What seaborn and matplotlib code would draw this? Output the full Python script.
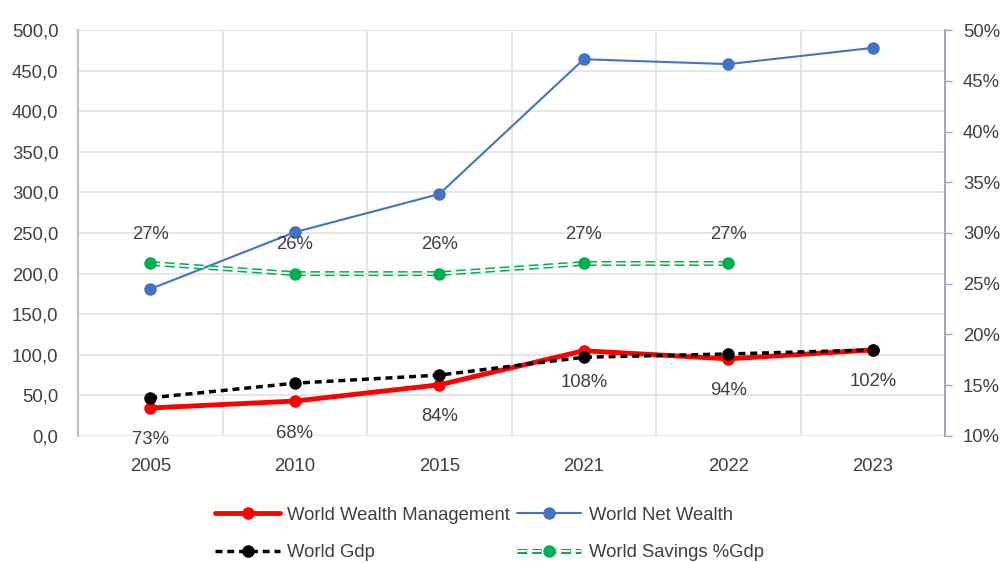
import matplotlib
matplotlib.use("Agg")
import matplotlib.pyplot as plt
from matplotlib.lines import Line2D
from matplotlib.ticker import FuncFormatter
import seaborn as sns

years = ["2005", "2010", "2015", "2021", "2022", "2023"]
wealth_mgmt = [34.5, 43, 63, 105, 95, 106]
net_wealth = [181, 251, 298, 464, 458, 478]
world_gdp = [47, 65, 75, 97, 101, 106]
ratio_labels = ["73%", "68%", "84%", "108%", "94%", "102%"]
savings_years = ["2005", "2010", "2015", "2021", "2022"]
savings_pct = [0.27, 0.26, 0.26, 0.27, 0.27]

sns.set_style("white")
plt.rcParams["font.family"] = ["Liberation Sans", "DejaVu Sans"]
plt.rcParams["lines.scale_dashes"] = False
txt = "#404040"
green = "#00b050"
ms = 9
fs = 13.3

fig = plt.figure(figsize=(10.04, 5.63), dpi=100)
ax = fig.add_axes([0.0777, 0.2256, 0.8636, 0.7211])
ax2 = ax.twinx()

# main series on left axis
sns.lineplot(x=years, y=wealth_mgmt, ax=ax, color="#ff0000", lw=3.5, marker="o",
             markersize=ms, markeredgewidth=0, label="World Wealth Management", legend=False, zorder=4)
sns.lineplot(x=years, y=net_wealth, ax=ax, color="#4472c4", lw=1.5, marker="o",
             markersize=ms, markeredgewidth=0, label="World Net Wealth", legend=False, zorder=3)
sns.lineplot(x=years, y=world_gdp, ax=ax, color="black", lw=2.5, ls=(0, (5, 3.5)), marker="o",
             markersize=ms, markeredgewidth=0, label="World Gdp", legend=False, zorder=5)

# savings on right axis: hollow green dashes (green dash, white core)
dash = (0, (7, 3.5))
sns.lineplot(x=savings_years, y=savings_pct, ax=ax2, color=green, lw=3.6, ls=dash, legend=False)
sns.lineplot(x=savings_years, y=savings_pct, ax=ax2, color="white", lw=1.4, ls=dash, legend=False)
sns.lineplot(x=savings_years, y=savings_pct, ax=ax2, color=green, lw=0, marker="o",
             markersize=ms, markeredgewidth=0, legend=False)

for i, lab in enumerate(ratio_labels):
    ax.annotate(lab, (i, wealth_mgmt[i]), xytext=(0, -23), textcoords="offset points",
                ha="center", va="center", fontsize=fs, color=txt)
for i, v in enumerate(savings_pct):
    ax2.annotate(f"{round(v * 100)}%", (i, v), xytext=(0, 21), textcoords="offset points",
                 ha="center", va="center", fontsize=fs, color=txt)

ax.set_xlim(-0.5, 5.5)
ax.set_ylim(0, 500)
ax.set_yticks(range(0, 501, 50))
ax.yaxis.set_major_formatter(FuncFormatter(lambda v, p: f"{v:.1f}".replace(".", ",")))
ax2.set_ylim(0.10, 0.50)
ax2.set_yticks([0.10, 0.15, 0.20, 0.25, 0.30, 0.35, 0.40, 0.45, 0.50])
ax2.yaxis.set_major_formatter(FuncFormatter(lambda v, p: f"{round(v * 100)}%"))

ax.set_xticks(range(len(years)))
ax.set_xticks([i + 0.5 for i in range(len(years) - 1)], minor=True)
ax.grid(True, axis="y", color="#e4e4e4", lw=1.3)
ax.grid(True, axis="x", which="minor", color="#e4e4e4", lw=1.3)
ax.grid(False, axis="x", which="major")
ax.tick_params(axis="x", which="both", length=0, pad=16, labelsize=fs, labelcolor=txt)
ax.tick_params(axis="y", length=0, pad=14, labelsize=fs, labelcolor=txt)
ax2.tick_params(axis="y", length=5, width=1, color="#a0aab8", pad=8, labelsize=fs, labelcolor=txt)
ax2.grid(False)

for a in (ax, ax2):
    for s in a.spines.values():
        s.set_visible(False)
ax.spines["left"].set_visible(True)
ax.spines["left"].set_color("#bfbfbf")
ax.spines["left"].set_linewidth(1.5)
ax2.spines["right"].set_visible(True)
ax2.spines["right"].set_color("#a0aab8")
ax2.spines["right"].set_linewidth(1.5)
ax.set_xlabel("")
ax.set_ylabel("")
ax2.set_ylabel("")

# legend handles for the hollow green line
sav_outer = Line2D([], [], color=green, lw=3.6, ls=dash)
sav_inner = Line2D([], [], color="white", lw=1.4, ls=dash, marker="o", markersize=ms,
                   markerfacecolor=green, markeredgewidth=0)
h1, l1 = ax.get_legend_handles_labels()
handles = [h1[0], h1[2], h1[1], (sav_outer, sav_inner)]
labels = [l1[0], l1[2], l1[1], "World Savings %Gdp"]
fig.legend(handles, labels, ncol=2, loc="upper left", bbox_to_anchor=(0.207, 0.113),
           frameon=False, fontsize=fs, labelcolor=txt, handlelength=3.5, handletextpad=0.4,
           columnspacing=0.35, labelspacing=1.1, borderaxespad=0)

fig.savefig("out.png", dpi=100)
